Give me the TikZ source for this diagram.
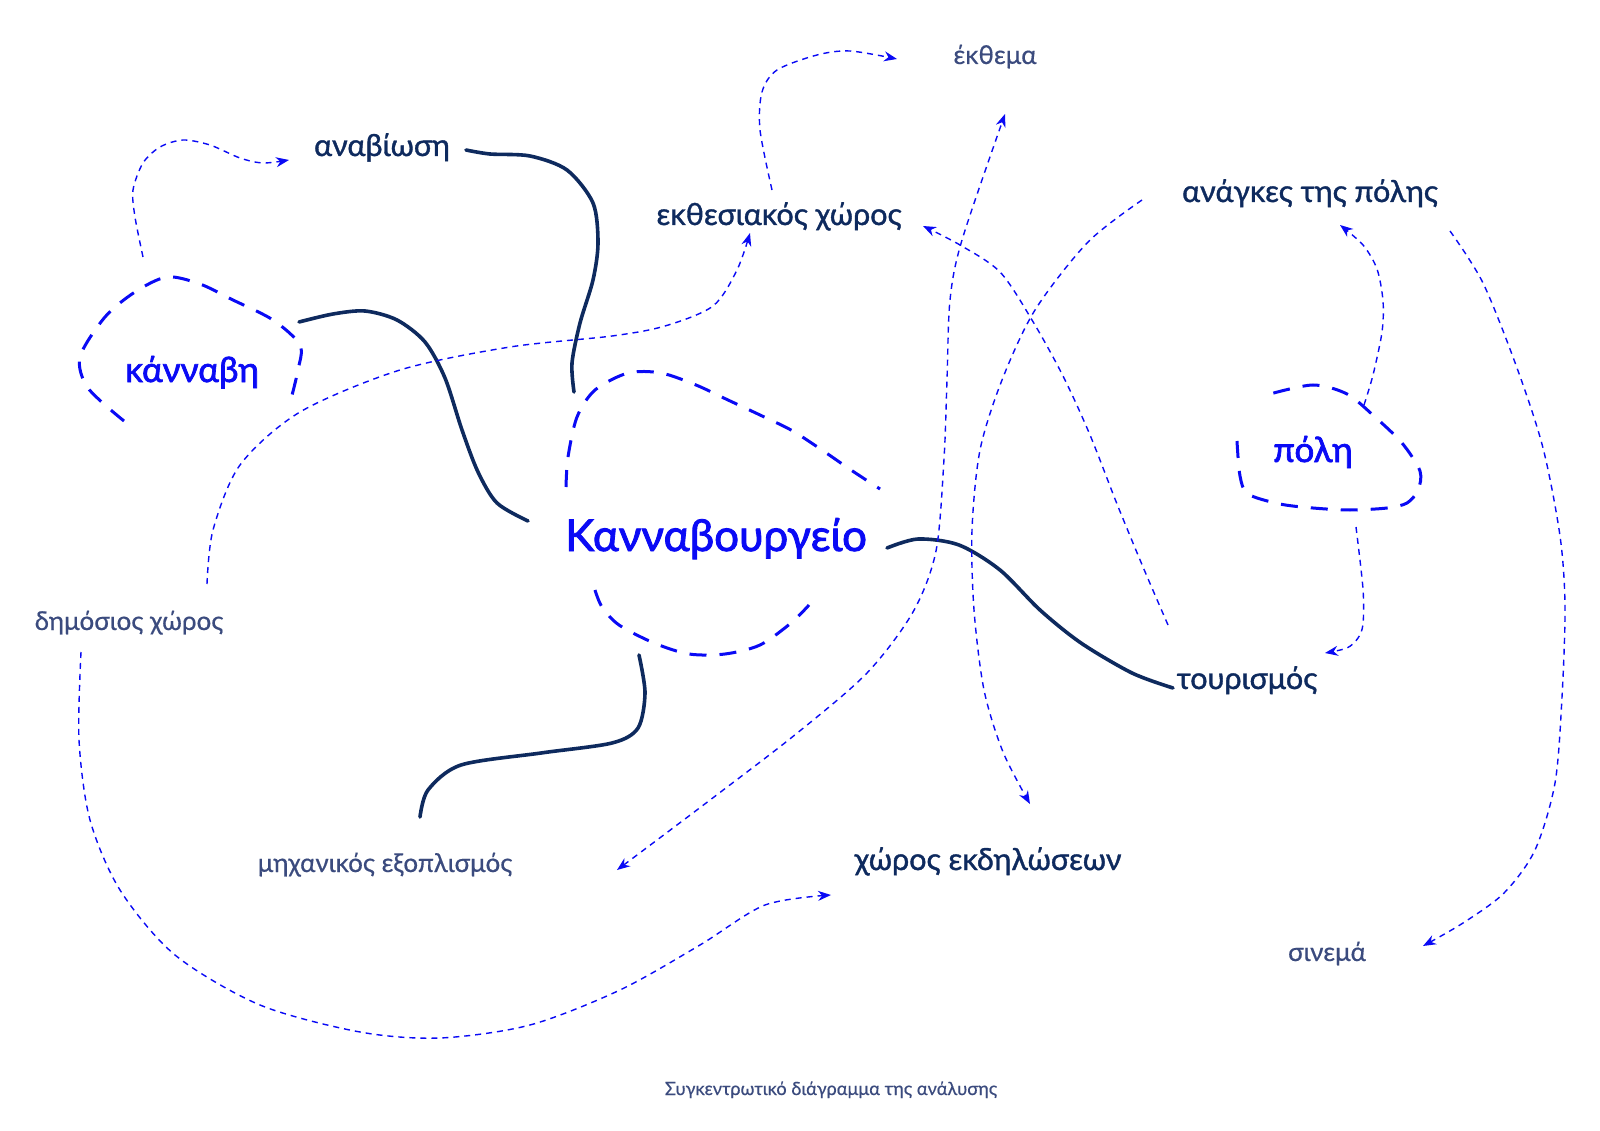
\documentclass[tikz,border=0pt]{standalone}
\usepackage{fontspec}
\setmainfont{Lato}
\newfontfamily\heavyfont{Lato}[FakeBold=2]
\newfontfamily\mediumfont{Lato}[FakeBold=1.2]
\newfontfamily\plainfont{Lato}[FakeBold=0.5]
\usepackage{tikz}
\usetikzlibrary{arrows.meta}
\definecolor{navy}{HTML}{0E2A5E}
\definecolor{slate}{HTML}{3B4B7E}
\definecolor{vivid}{HTML}{0A0AF5}

\tikzset{
  lbl/.style={anchor=base, inner sep=0pt},
  hub/.style={lbl, text=vivid, font=\heavyfont\fontsize{35}{38}\selectfont},
  topic/.style={lbl, text=navy, font=\mediumfont\fontsize{30.5}{33}\selectfont},
  aside/.style={lbl, text=slate, font=\plainfont\fontsize{26}{29}\selectfont},
  link/.style={draw=navy, line width=3.6pt, line cap=round},
  hint/.style={draw=vivid, line width=1.4pt, dash pattern=on 6pt off 5pt,
    -{Stealth[length=13pt, width=10pt]}},
  halo/.style={draw=vivid, line width=3pt, dash pattern=on 17pt off 13pt}
}

\begin{document}
\begin{tikzpicture}[x=1pt, y=-1pt]
    \fill[white] (0,0) rectangle (1600,1131);

    \node[hub, font=\heavyfont\fontsize{44}{48}\selectfont] (kannavourgeio) at (716,551) {Κανναβουργείο};
    \node[hub] (kannavi) at (192,382) {κάνναβη};
    \node[hub] (poli) at (1313,462) {πόλη};
    \node[topic] (anaviosi) at (382,156) {αναβίωση};
    \node[topic] (ekthesiakos) at (779,225) {εκθεσιακός χώρος};
    \node[topic] (anagkes) at (1310,202) {ανάγκες της πόλης};
    \node[topic] (tourismos) at (1247,689) {τουρισμός};
    \node[topic] (ekdiloseis) at (988,870) {χώρος εκδηλώσεων};
    \node[aside] (ekthema) at (995,64) {έκθεμα};
    \node[aside] (dimosios) at (129,630) {δημόσιος χώρος};
    \node[aside] (michanikos) at (385,872) {μηχανικός εξοπλισμός};
    \node[aside] (sinema) at (1327,961) {σινεμά};
    \node[aside, font=\plainfont\fontsize{18.2}{21}\selectfont] (caption) at (831,1095) {Συγκεντρωτικό διάγραμμα της ανάλυσης};

    % dashed outlines
    \draw[halo] plot[smooth] coordinates {(124,421) (88,388) (80,357) (105,317) (135,292) (167,277) (200,284) (233,300) (273,320) (300,345) (298,370) (290,403)};
    \draw[halo] plot[smooth] coordinates {(566,487) (568,457) (577,417) (595,390) (628,373) (661,373) (696,385) (728,400) (760,415) (791,430) (819,448) (851,470) (880,489)};
    \draw[halo] plot[smooth] coordinates {(595,590) (602,607) (619,625) (654,643) (689,654) (725,654) (760,645) (791,623) (809,605)};
    \draw[halo] plot[smooth] coordinates {(1237,441) (1240,476) (1248,494) (1280,504) (1313,508) (1350,510) (1387,508) (1407,503) (1418,490) (1420,471) (1402,443) (1375,417) (1347,394) (1313,385) (1270,394)};

    % solid links
    \draw[link] plot[smooth] coordinates {([shift={(84,-6)}]anaviosi.base) (490,154) (530,156) (567,170) (593,203) (598,243) (593,280) (580,323) (572,363) ([shift={(-142,-159)}]kannavourgeio.base)};
    \draw[link] plot[smooth] coordinates {([shift={(107,-60)}]kannavi.base) (333,314) (365,311) (397,320) (425,342) (445,378) (462,430) (478,472) (497,503) ([shift={(-188,-30)}]kannavourgeio.base)};
    \draw[link] plot[smooth] coordinates {([shift={(171,-3)}]kannavourgeio.base) (918,539) (959,545) (1000,570) (1040,610) (1081,643) (1132,673) ([shift={(-74,-1)}]tourismos.base)};
    \draw[link] plot[smooth] coordinates {([shift={(-77,104)}]kannavourgeio.base) (645,693) (638,728) (612,743) (541,753) (461,765) (428,790) ([shift={(35,-55)}]michanikos.base)};

    % dashed arrows
    \draw[hint] plot[smooth] coordinates {([shift={(-49,-125)}]kannavi.base) (135,217) (133,190) (143,163) (160,147) (183,140) (210,145) (240,158) (263,163) ([shift={(-93,4)}]anaviosi.base)};
    \draw[hint] plot[smooth] coordinates {([shift={(78,-46)}]dimosios.base) (213,530) (240,465) (300,412) (400,370) (510,347) (612,336) (665,326) (713,306) (737,270) ([shift={(-29,8)}]ekthesiakos.base)};
    \draw[hint] plot[smooth] coordinates {([shift={(-7,-35)}]ekthesiakos.base) (760,130) (762,92) (777,70) (817,55) (850,51) ([shift={(-98,-5)}]ekthema.base)};
    \draw[hint, {Stealth[length=13pt, width=10pt]}-{Stealth[length=13pt, width=10pt]}] plot[smooth] coordinates {([shift={(232,-2)}]michanikos.base) (714,797) (796,734) (867,673) (913,612) (936,551) (944,459) (947,380) (950,300) (962,240) ([shift={(10,50)}]ekthema.base)};
    \draw[hint] plot[smooth] coordinates {([shift={(-79,-64)}]tourismos.base) (1143,567) (1117,504) (1090,435) (1063,376) (1032,320) (1000,272) (960,245) ([shift={(144,1)}]ekthesiakos.base)};
    \draw[hint] plot[smooth] coordinates {([shift={(-168,-2)}]anagkes.base) (1088,242) (1035,310) (1002,380) (980,450) (972,530) (974,610) (984,690) (1003,752) ([shift={(42,-66)}]ekdiloseis.base)};
    \draw[hint] plot[smooth] coordinates {([shift={(51,-57)}]poli.base) (1373,375) (1382,332) (1383,301) (1377,269) (1363,245) ([shift={(30,23)}]anagkes.base)};
    \draw[hint] plot[smooth] coordinates {([shift={(43,65)}]poli.base) (1363,589) (1363,624) (1358,638) (1347,648) ([shift={(78,-36)}]tourismos.base)};
    \draw[hint] plot[smooth] coordinates {([shift={(140,29)}]anagkes.base) (1483,283) (1517,368) (1543,448) (1560,536) (1565,606) (1562,697) (1555,783) (1535,850) (1504,893) (1463,923) ([shift={(96,-15)}]sinema.base)};
    \draw[hint] plot[smooth] coordinates {([shift={(-48,22)}]dimosios.base) (79,740) (90,820) (120,890) (175,955) (260,1005) (360,1032) (440,1038) (530,1025) (620,990) (700,945) (765,905) ([shift={(-157,25)}]ekdiloseis.base)};
\end{tikzpicture}
\end{document}
